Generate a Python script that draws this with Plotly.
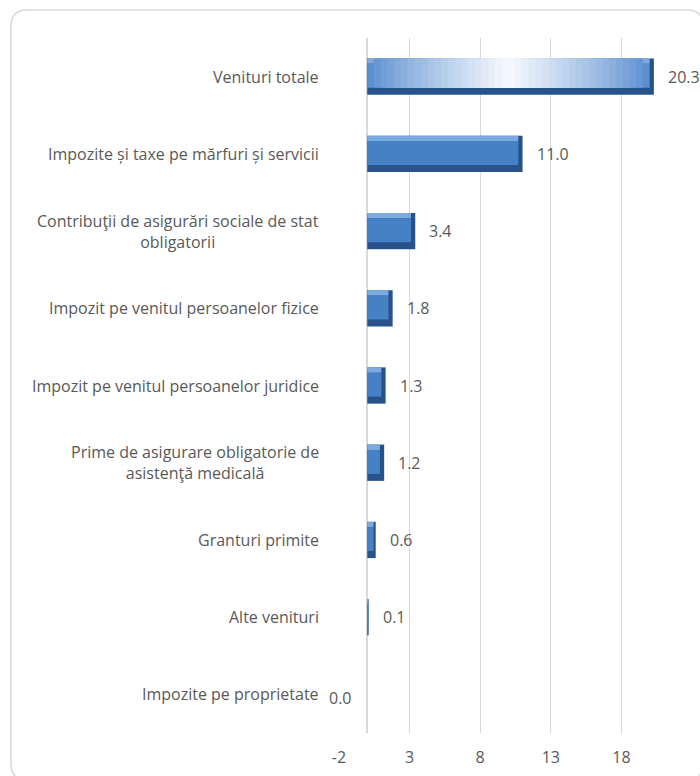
import plotly.graph_objects as go

categories = [
    "Venituri totale",
    "Impozite și taxe pe mărfuri și servicii",
    "Contribuţii de asigurări sociale de stat<br>obligatorii",
    "Impozit pe venitul persoanelor fizice",
    "Impozit pe venitul persoanelor juridice",
    "Prime de asigurare obligatorie de<br>asistenţă medicală",
    "Granturi primite",
    "Alte venituri",
    "Impozite pe proprietate",
]
values = [20.3, 11.0, 3.4, 1.8, 1.3, 1.2, 0.6, 0.1, 0.0]
tick_vals = [-2, 3, 8, 13, 18]
tick_text = ["-2", "3", "8", "13", "18"]
x_range = [-2, 23]

W, H = 700, 776
L, R, T, B = 339, 8, 38, 43
PW, PH = W - L - R, H - T - B
FONT = "Open Sans"
FS = 16
TXT = "#595959"


def px_x(p):
    return (p - L) / PW


def px_y(p):
    return (H - B - p) / PH


def mix(c1, c2, t):
    a = [int(c1[i:i + 2], 16) for i in (1, 3, 5)]
    b = [int(c2[i:i + 2], 16) for i in (1, 3, 5)]
    return "#" + "".join(f"{round(x + (y - x) * t):02x}" for x, y in zip(a, b))


fig = go.Figure()
BW = 0.47
TOP = 0.07
FACE = 0.31

# dark body (right + bottom bevel)
fig.add_bar(y=categories, x=values, orientation="h", width=BW,
            marker=dict(color="#27528a", line_width=0), hoverinfo="skip")

face_len = [v - min(0.3, v * 0.25) for v in values]
top_cols = ["#7fa9de"] + ["#7aaae0"] * (len(values) - 1)
face_cols = ["#5b8fd0"] + ["#4681c6"] * (len(values) - 1)
# top light bevel
fig.add_bar(y=categories, x=face_len, orientation="h", width=TOP, offset=-BW / 2,
            marker=dict(color=top_cols, line_width=0), hoverinfo="skip")
# face
fig.add_bar(y=categories, x=face_len, orientation="h", width=FACE, offset=-BW / 2 + TOP,
            marker=dict(color=face_cols, line_width=0), hoverinfo="skip")

# highlight gradient on the first bar
v0 = face_len[0]
steps = 20
for k in range(1, steps + 1):
    a = 0.5 * k / (steps + 1)
    b = 1 - a
    col = mix("#5b8fd0", "#f4f8fd", (k / steps) ** 0.85)
    fig.add_bar(y=[categories[0]], x=[v0 * (b - a)], base=[v0 * a], orientation="h",
                width=TOP + FACE, offset=-BW / 2,
                marker=dict(color=col, line_width=0), hoverinfo="skip")

annotations = []
for cat, v in zip(categories, values):
    annotations.append(dict(x=px_x(321), xref="paper", y=cat, yref="y", text=cat,
                            showarrow=False, xanchor="right", align="center",
                            font=dict(family=FONT, size=FS, color=TXT)))
    if v > 0:
        annotations.append(dict(x=v, y=cat, xref="x", yref="y", text=f"{v:.1f}",
                                showarrow=False, xanchor="left", xshift=12, yshift=0,
                                font=dict(family=FONT, size=FS, color=TXT)))
    else:
        annotations.append(dict(x=v, y=cat, xref="x", yref="y", text=f"{v:.1f}",
                                showarrow=False, xanchor="right", xshift=-13, yshift=-4,
                                font=dict(family=FONT, size=FS, color=TXT)))

# rounded chart frame
x0, x1 = px_x(11), px_x(703)
y0, y1 = px_y(10), px_y(780)
rx, ry = 16 / PW, 16 / PH
frame = (f"M {x0},{y0 - ry} Q {x0},{y0} {x0 + rx},{y0} L {x1 - rx},{y0} "
         f"Q {x1},{y0} {x1},{y0 - ry} L {x1},{y1 + ry} Q {x1},{y1} {x1 - rx},{y1} "
         f"L {x0 + rx},{y1} Q {x0},{y1} {x0},{y1 + ry} Z")

fig.update_layout(
    width=W, height=H,
    margin=dict(l=L, r=R, t=T, b=B),
    paper_bgcolor="white", plot_bgcolor="white",
    barmode="overlay", showlegend=False, hovermode=False,
    annotations=annotations,
    shapes=[dict(type="path", path=frame, xref="paper", yref="paper",
                 line=dict(color="#d9d9d9", width=1.5), layer="below")],
    xaxis=dict(range=x_range, tickvals=tick_vals, ticktext=tick_text, showgrid=True,
               gridcolor="#d9d9d9", gridwidth=1.3, zeroline=True, zerolinecolor="#d9d9d9",
               zerolinewidth=1.5, showline=False, ticks="", ticklabelstandoff=13,
               tickfont=dict(family=FONT, size=FS, color=TXT), fixedrange=True),
    yaxis=dict(showticklabels=False, showgrid=False, zeroline=False, showline=False,
               autorange="reversed", categoryorder="array", categoryarray=categories,
               fixedrange=True),
)

fig.write_html(
    "out.html",
    config={"displayModeBar": False, "staticPlot": True},
    post_script="document.body.style.margin='0';document.body.style.overflow='hidden';",
)
